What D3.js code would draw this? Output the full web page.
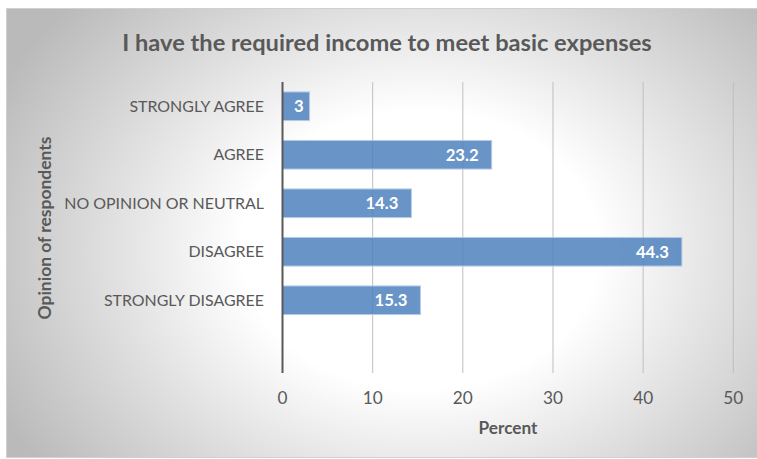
<!DOCTYPE html>
<html>
<head>
<meta charset="utf-8">
<script src="https://cdn.jsdelivr.net/npm/d3@7"></script>
<style>
  html, body { margin: 0; padding: 0; background: #fff; }
  svg { display: block; }
  text { font-family: Lato, "Open Sans", "Noto Sans", sans-serif; }
</style>
</head>
<body>
<svg id="chart" width="757" height="459"></svg>
<script>
// Survey responses (percent); the trailing blank category leaves an empty band
const categories = ["STRONGLY AGREE", "AGREE", "NO OPINION OR NEUTRAL", "DISAGREE", "STRONGLY DISAGREE", ""];
const values = [3, 23.2, 14.3, 44.3, 15.3, null];
const xTicks = [0, 10, 20, 30, 40, 50];
const titleText = "I have the required income to meet basic expenses";
const xTitle = "Percent";
const yTitle = "Opinion of respondents";

const svg = d3.select("#chart");
const W = 757, H = 459;
const plot = { left: 282.5, right: 733.3, top: 82, bottom: 373 };
const textColor = "#595959";

// Background panel with a soft radial shading
const defs = svg.append("defs");
const grad = defs.append("radialGradient")
  .attr("id", "bg").attr("gradientUnits", "userSpaceOnUse")
  .attr("cx", 420).attr("cy", 250).attr("r", 470)
  .attr("gradientTransform", "translate(420,250) scale(1,0.78) translate(-420,-250)");
grad.append("stop").attr("offset", "0").attr("stop-color", "#ffffff");
grad.append("stop").attr("offset", "0.38").attr("stop-color", "#ffffff");
grad.append("stop").attr("offset", "1").attr("stop-color", "#bababa");

svg.append("rect")
  .attr("x", 6.5).attr("y", 8.5).attr("width", W - 6).attr("height", H - 10)
  .attr("fill", "url(#bg)").attr("stroke", "#d0d0d0").attr("stroke-width", 1);

const x = d3.scaleLinear().domain([0, 50]).range([plot.left, plot.right]);
const y = d3.scaleBand().domain(categories.map((c, i) => i))
  .range([plot.top, plot.bottom]).paddingInner(0.41).paddingOuter(0.205);

// Scale a text group's font so that a given string spans the target width
function fitGroup(sel, sample, target) {
  const probe = svg.append("text").attr("font-size", 20)
    .attr("font-weight", sel.attr("font-weight") || "normal").text(sample);
  const w = probe.node().getComputedTextLength();
  probe.remove();
  sel.attr("font-size", 20 * target / w);
}

// Vertical gridlines
svg.append("g").selectAll("line").data(xTicks.filter(t => t > 0)).join("line")
  .attr("x1", d => x(d)).attr("x2", d => x(d))
  .attr("y1", plot.top).attr("y2", plot.bottom)
  .attr("stroke", "#bfbfbf").attr("stroke-width", 1);

// Bars
const rows = categories.map((c, i) => ({ c, i, v: values[i] })).filter(d => d.v != null);
svg.append("g").selectAll("rect").data(rows).join("rect")
  .attr("x", x(0)).attr("y", d => y(d.i))
  .attr("width", d => x(d.v) - x(0)).attr("height", y.bandwidth())
  .attr("fill", "#4f81bd").attr("fill-opacity", 0.85)
  .attr("stroke", "#b7cbe6").attr("stroke-width", 1);

// Value labels inside bar ends (less inset on very short bars)
const vl = svg.append("g").attr("font-weight", "bold").attr("fill", "#ffffff");
vl.selectAll("text").data(rows).join("text")
  .attr("x", d => x(d.v) - ((x(d.v) - x(0)) < 40 ? 6 : 13))
  .attr("y", d => y(d.i) + y.bandwidth() / 2)
  .attr("dy", "0.36em").attr("text-anchor", "end")
  .text(d => d.v);
fitGroup(vl, "44.3", 33);

// Category axis line
svg.append("line")
  .attr("x1", x(0)).attr("x2", x(0)).attr("y1", plot.top).attr("y2", plot.bottom)
  .attr("stroke", textColor).attr("stroke-width", 2);

// Category labels
const cl = svg.append("g").attr("fill", textColor);
cl.selectAll("text").data(categories.map((c, i) => ({ c, i }))).join("text")
  .attr("x", 264).attr("y", d => y(d.i) + y.bandwidth() / 2)
  .attr("dy", "0.36em").attr("text-anchor", "end")
  .text(d => d.c);
fitGroup(cl, "NO OPINION OR NEUTRAL", 200);

// Value axis tick labels
const tl = svg.append("g").attr("fill", textColor);
tl.selectAll("text").data(xTicks).join("text")
  .attr("x", d => x(d)).attr("y", 398).attr("dy", "0.36em")
  .attr("text-anchor", "middle")
  .text(d => d);
fitGroup(tl, "50", 20);

// Chart title
const tg = svg.append("g").attr("font-weight", "bold").attr("fill", textColor);
tg.append("text")
  .attr("x", 387).attr("y", 42).attr("dy", "0.36em").attr("text-anchor", "middle")
  .text(titleText);
fitGroup(tg, titleText, 530);

// Axis titles
const xg = svg.append("g").attr("font-weight", "bold").attr("fill", textColor);
xg.append("text")
  .attr("x", 508).attr("y", 428).attr("dy", "0.36em").attr("text-anchor", "middle")
  .text(xTitle);
fitGroup(xg, xTitle, 59);

const yg = svg.append("g").attr("font-weight", "bold").attr("fill", textColor);
yg.append("text")
  .attr("transform", "translate(45,228) rotate(-90)")
  .attr("dy", "0.36em").attr("text-anchor", "middle")
  .text(yTitle);
fitGroup(yg, yTitle, 183);
</script>
</body>
</html>
